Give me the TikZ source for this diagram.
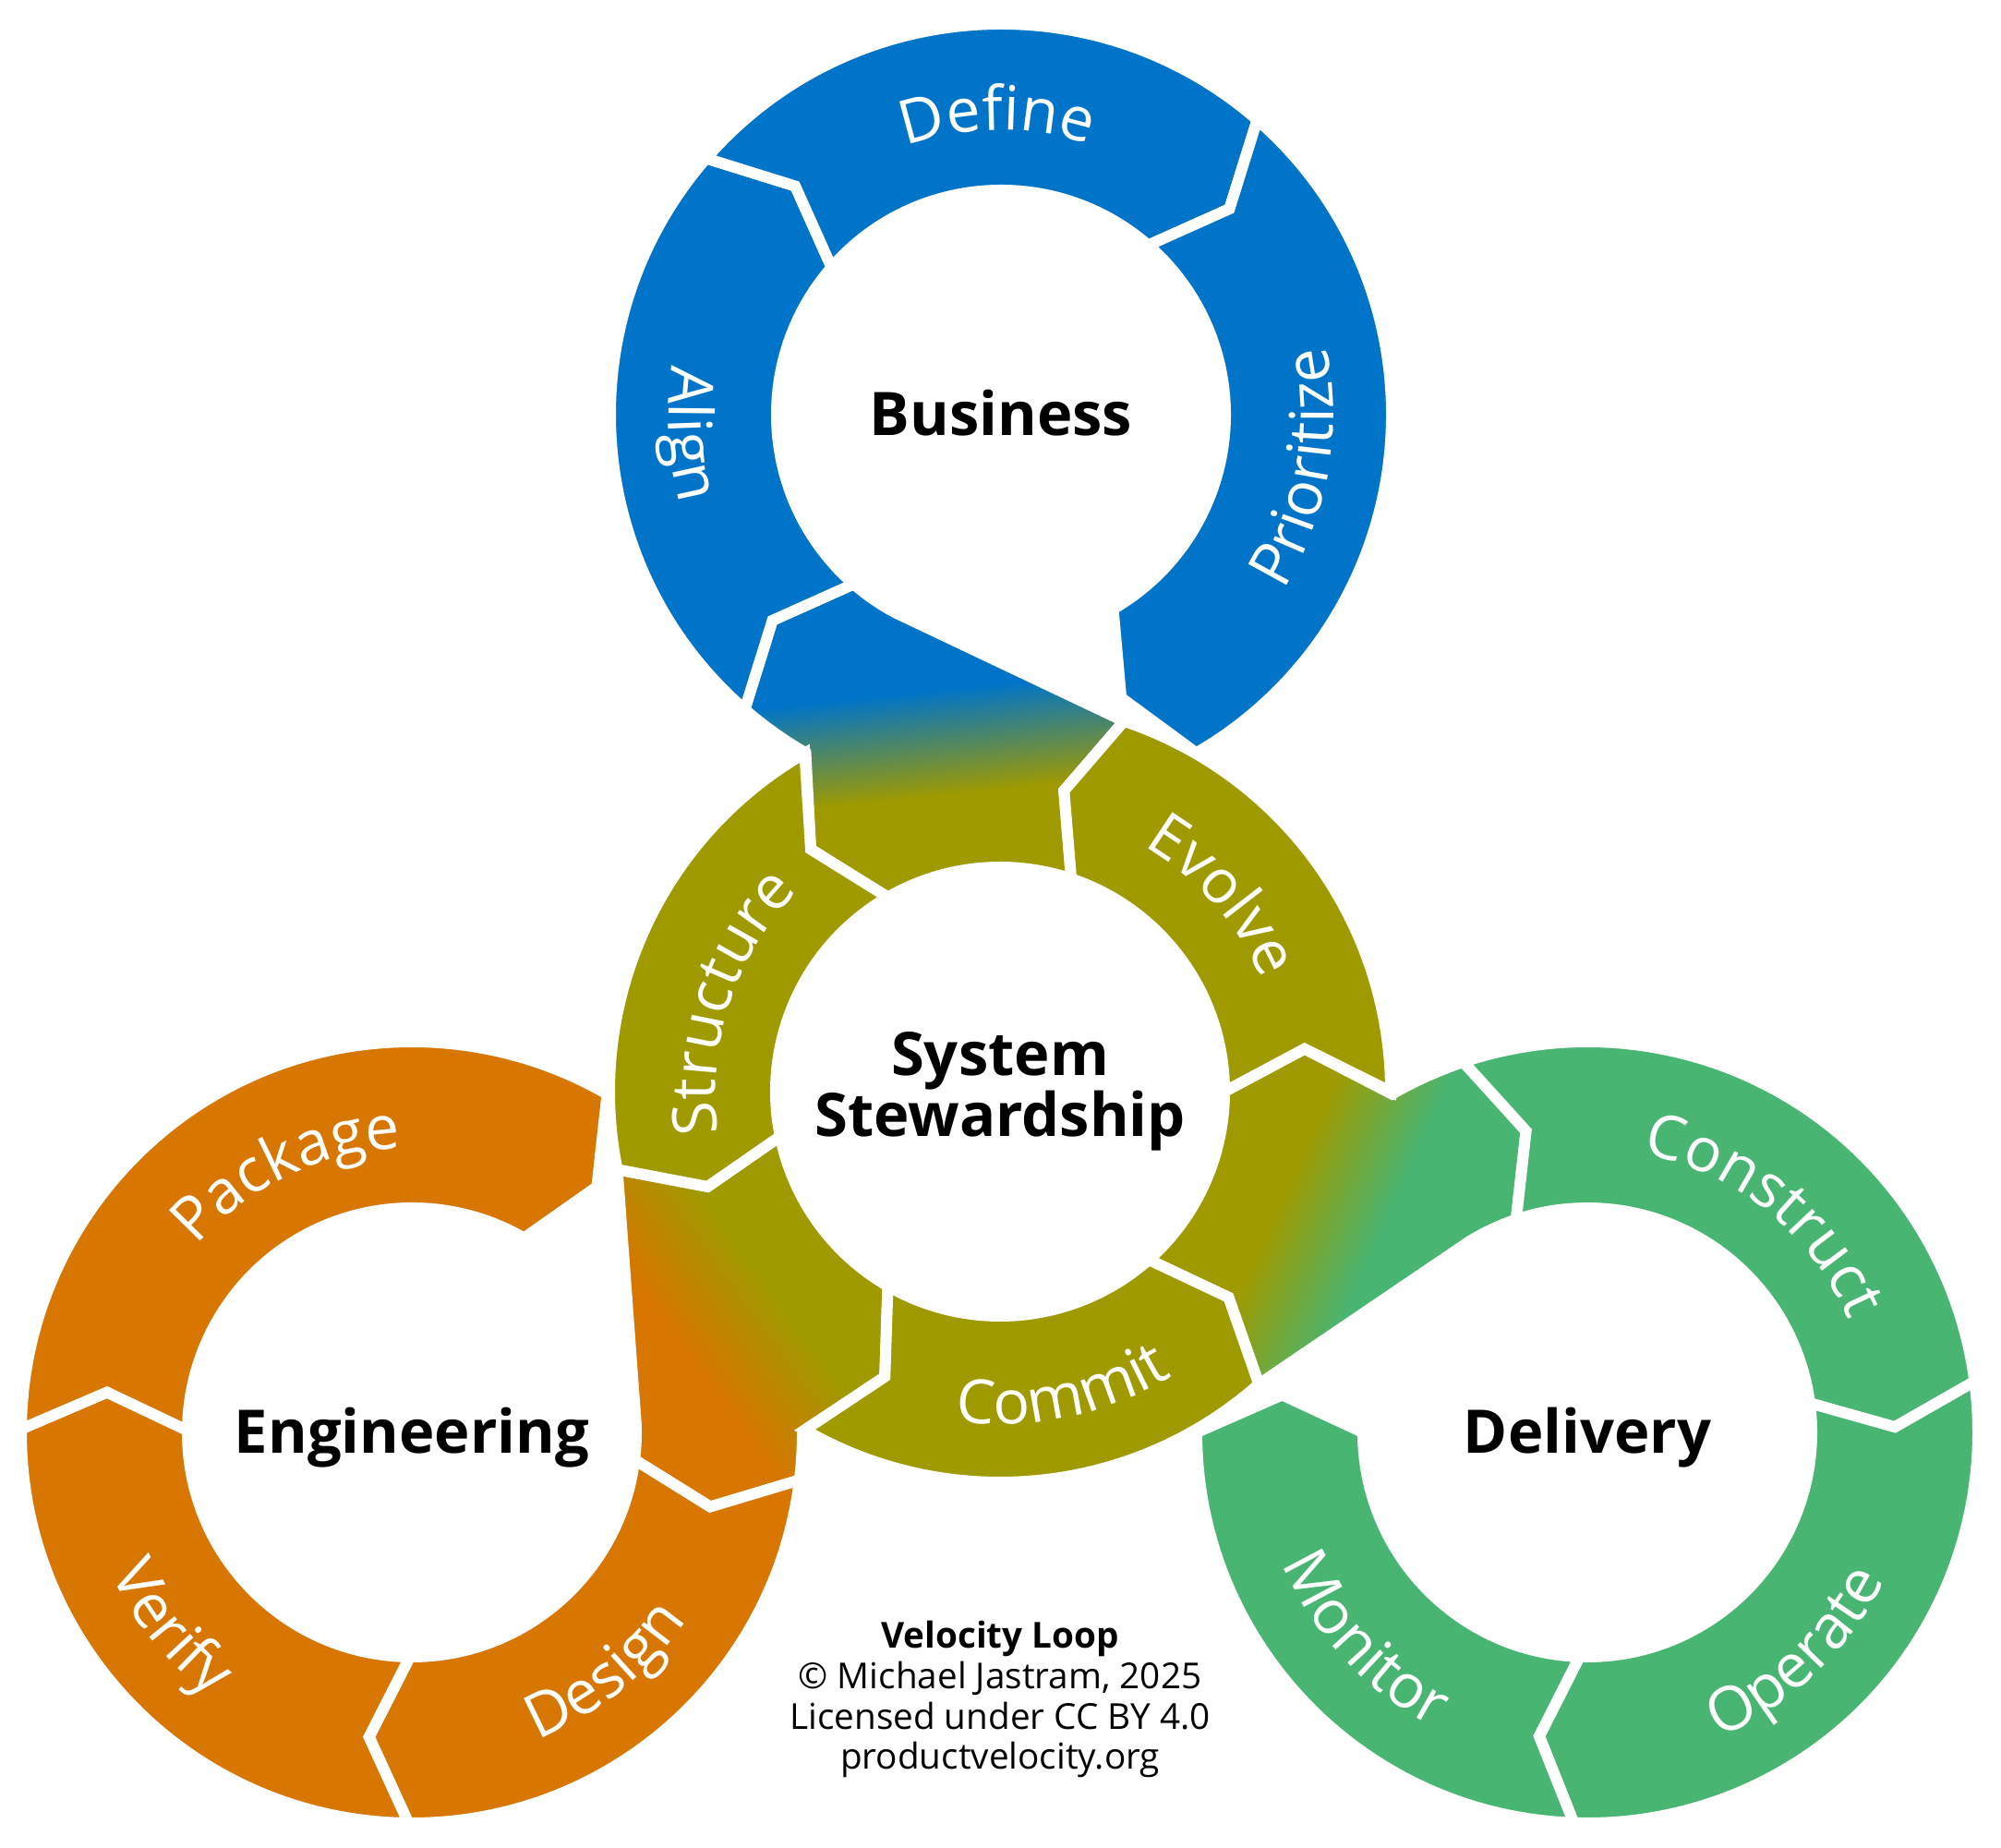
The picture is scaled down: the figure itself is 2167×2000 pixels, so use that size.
\documentclass[tikz,border=0pt]{standalone}
\usepackage{fontspec}
\IfFontExistsTF{Noto Sans Bold}
  {\setmainfont{Noto Sans}[BoldFont={Noto Sans Bold}]}
  {\IfFontExistsTF{Open Sans Bold}
    {\setmainfont{Open Sans}[BoldFont={Open Sans Bold}]}
    {\setmainfont{Noto Sans}[AutoFakeBold=2.5]}}
\usetikzlibrary{calc,decorations.text}

\definecolor{bizblue}{HTML}{0074C8}
\definecolor{sysolive}{HTML}{9F9A00}
\definecolor{engorange}{HTML}{D77600}
\definecolor{delgreen}{HTML}{48B573}

\newcommand{\Rin}{243}
\newcommand{\Rmid}{333}
\newcommand{\Rout}{423}
\newcommand{\lblfont}{\fontsize{18.8}{18.8}\selectfont\color{white}}

\newcommand{\ringseg}[6]{%
  \filldraw[fill=#6, gapline] ($(#1)+(#2:\Rout)$)
    arc[start angle=#2, end angle=#4, radius=\Rout]
    -- ($(#1)+(#5:\Rmid)$) -- ($(#1)+(#4:\Rin)$)
    arc[start angle=#4, end angle=#2, radius=\Rin]
    -- ($(#1)+(#3:\Rmid)$) -- cycle;}

\newcommand{\bridgepath}[3]{%
  ($(S)+({71.5+#2}:\Rout)$) -- ($(#1)+({242+#2}:\Rin)$)
  arc[start angle=242+#2, end angle=#3, radius=\Rin]
  -- ($(#1)+({#3-7}:\Rmid)$) -- ($(#1)+(#3:\Rout)$)
  arc[start angle=#3, end angle=240+#2, radius=\Rout]
  -- ($(S)+({128+#2}:\Rmid)$) -- ($(S)+({120+#2}:\Rin)$)
  arc[start angle=120+#2, end angle=71.5+#2, radius=\Rin]
  -- ($(S)+({78+#2}:\Rmid)$) -- cycle}

\newcommand{\bridge}[4]{%
  \begin{scope}
    \clip \bridgepath{#1}{#2}{#3};
    \begin{scope}[transform canvas={rotate around={#2+6:(S)}}]
      \fill[sysolive] ($(S)+(-900,-200)$) rectangle ($(S)+(900,326)$);
      \shade[bottom color=sysolive, top color=#4] ($(S)+(-900,325)$) rectangle ($(S)+(900,440)$);
      \fill[#4] ($(S)+(-900,439)$) rectangle ($(S)+(900,1300)$);
    \end{scope}
  \end{scope}
  \draw[gapline] \bridgepath{#1}{#2}{#3};}

\newcommand{\outlabel}[3]{%
  \path[decorate, decoration={text along path, text align=center, text={|\lblfont|#3}}]
    ($(#1)+({#2+70}:308)$) arc[start angle=#2+70, end angle=#2-70, radius=308];}
\newcommand{\inlabel}[3]{%
  \path[decorate, decoration={text along path, text align=center, text={|\lblfont|#3}}]
    ($(#1)+({#2-70}:360)$) arc[start angle=#2-70, end angle=#2+70, radius=360];}

\begin{document}
\begin{tikzpicture}[x=0.01cm, y=0.01cm,
    gapline/.style={draw=white, line width=0.12cm},
    ctrlabel/.style={font=\fontsize{18.5}{18.7}\selectfont\bfseries, align=center}]
  \useasboundingbox (0,0) rectangle (2167,2000);
  \fill[white] (0,0) rectangle (2167,2000);
  \coordinate (S) at (1083,818);
  \coordinate (B) at (1084,1551);
  \coordinate (E) at (446,449);
  \coordinate (D) at (1719,449);

  \bridge{B}{0}{229}{bizblue}
  \bridge{D}{-120}{108.5}{delgreen}
  \bridge{E}{120}{353}{engorange}

  \ringseg{S}{71.5}{78}{0}{8}{sysolive}
  \ringseg{S}{191.5}{198}{120}{128}{sysolive}
  \ringseg{S}{-48.5}{-42}{-120}{-112}{sysolive}

  \ringseg{B}{229}{222}{139}{132}{bizblue}
  \ringseg{B}{139}{132}{49}{42}{bizblue}
  \ringseg{B}{49}{42}{-60}{-67}{bizblue}

  \ringseg{D}{108.5}{101.5}{7.5}{1}{delgreen}
  \ringseg{D}{7.5}{1}{-92}{-99}{delgreen}
  \ringseg{D}{-92}{-99}{-180}{-187}{delgreen}

  \ringseg{E}{-7}{-14}{-90.5}{-98}{engorange}
  \ringseg{E}{-90.5}{-98}{-180.5}{-187.5}{engorange}
  \ringseg{E}{-180.5}{-187.5}{-300}{-307}{engorange}

  \inlabel{B}{183.5}{Align}
  \outlabel{B}{90.7}{Define}
  \inlabel{B}{-10}{Prioritize}
  \outlabel{S}{41.4}{Evolve}
  \outlabel{S}{161.8}{Structure}
  \inlabel{S}{-78.2}{Commit}
  \outlabel{E}{115.6}{Package}
  \inlabel{E}{219}{Verify}
  \inlabel{E}{-51}{Design}
  \outlabel{D}{51}{Construct}
  \inlabel{D}{-46.5}{Operate}
  \inlabel{D}{222.9}{Monitor}

  \node[ctrlabel, anchor=base] (bizname) at ($(B)+(0,-23)$) {Business};
  \node[ctrlabel] (sysname) at (S) {System\\Stewardship};
  \node[ctrlabel, anchor=base] (engname) at ($(E)+(0,-23)$) {Engineering};
  \node[ctrlabel, anchor=base] (delname) at ($(D)+(0,-23)$) {Delivery};
  \node[font=\fontsize{11}{12.5}\selectfont, align=center] (credit) at (1083,160)
    {\textbf{Velocity Loop}\\© Michael Jastram, 2025\\Licensed under CC BY 4.0\\productvelocity.org};
\end{tikzpicture}
\end{document}
